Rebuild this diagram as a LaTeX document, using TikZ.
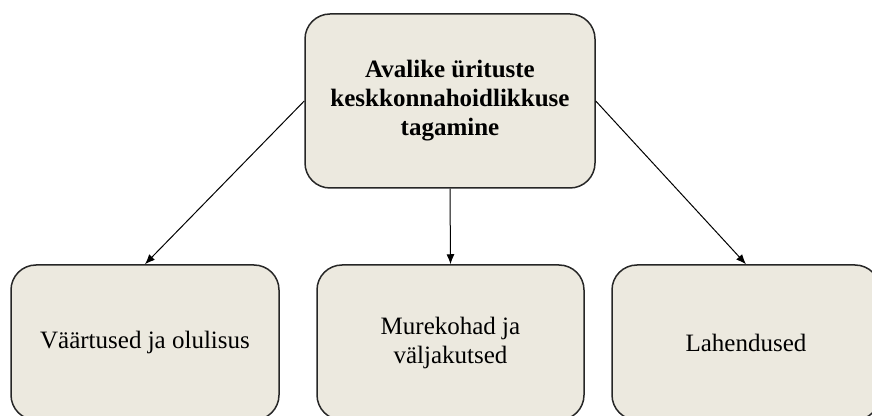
\documentclass[tikz,border=0pt]{standalone}
\usepackage{fontspec}
\setmainfont{Liberation Serif}
\usetikzlibrary{arrows.meta}
\definecolor{boxfill}{RGB}{236,233,223}

\begin{document}
\begin{tikzpicture}[x=0.5pt,y=-0.5pt,
        box/.style={draw=black!85, line width=0.75pt, fill=boxfill, rounded corners=12.5pt,
            inner sep=0pt, align=center, font=\fontsize{12.5}{14.5}\selectfont},
        arrow/.style={-{Latex[length=5pt,width=4pt]}, line width=0.5pt}]
        % Area
        \clip (0,0) rectangle (872,416);

        % Riquadro principale
        \node[box, minimum width=145pt, minimum height=87pt] (goal) at (450,101)
            {\textbf{Avalike ürituste}\\\textbf{keskkonnahoidlikkuse}\\\textbf{tagamine}};

        % Riquadri inferiori
        \node[box, minimum width=134pt, minimum height=77.5pt] (values) at (145,342.5) {Väärtused ja olulisus};
        \node[box, minimum width=133.5pt, minimum height=77.5pt] (concerns) at (450.5,342.5) {Murekohad ja\\väljakutsed};
        \node[box, minimum width=134pt, minimum height=77.5pt] (solutions) at (746,342.5) {Lahendused};

        % Frecce
        \draw[arrow] (goal.west) -- (values.north);
        \draw[arrow] (goal.south) -- (concerns.north);
        \draw[arrow] (goal.east) -- (solutions.north);
    \end{tikzpicture}
\end{document}
